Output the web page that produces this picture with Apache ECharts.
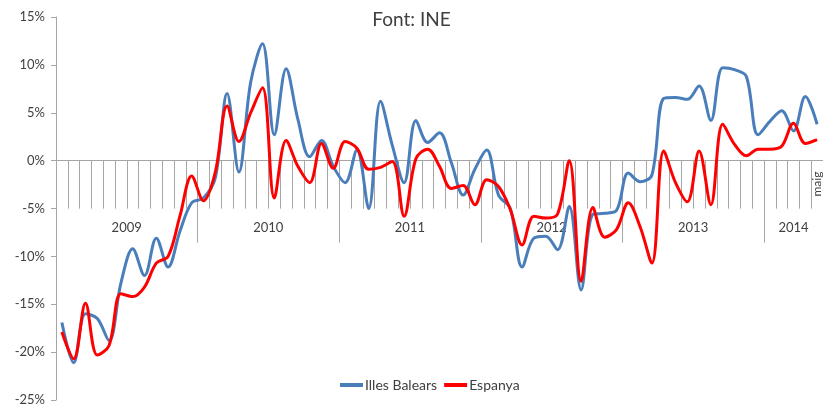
<!DOCTYPE html>
<html>
<head>
<meta charset="utf-8">
<script src="https://cdn.jsdelivr.net/npm/echarts@6/dist/echarts.min.js"></script>
<style>
    html, body { margin: 0; padding: 0; background: #fff; }
    #chart { width: 823px; height: 404px; }
</style>
</head>
<body>
<div id="chart"></div>
<script>
// categories: one per month, gen 2009 - maig 2014
var years = ['2009', '2010', '2011', '2012', '2013', '2014'];
var monthNames = ['gen', 'feb', 'mar', 'abr', 'maig', 'jun', 'jul', 'ago', 'set', 'oct', 'nov', 'des'];
var months = [];
for (var y = 0; y < years.length; y++) {
    for (var m = 0; m < 12; m++) {
        if (y === years.length - 1 && m > 4) break;
        months.push(monthNames[m] + ' ' + years[y]);
    }
}
var lastMonthLabel = 'maig';

// variacio interanual (%)
var illesBalears = [
    -16.9, -21.1, -16.0, -16.5, -18.8, -12.8, -9.2, -12.0, -8.1, -11.1, -7.4, -4.4,
    -3.9, -1.8, 7.0, -1.2, 8.2, 12.2, 2.7, 9.6, 4.3, 0.4, 2.1, -0.6,
    -2.3, 1.1, -5.0, 6.2, 1.6, -2.3, 4.2, 1.9, 2.9, -0.2, -3.6, -0.9,
    1.1, -3.6, -5.0, -11.1, -8.1, -7.9, -9.3, -4.8, -13.5, -5.6, -5.5, -5.2,
    -1.3, -2.2, -1.5, 6.5, 6.6, 6.4, 7.8, 4.2, 9.7, 9.5, 8.8, 2.7,
    4.1, 5.2, 3.1, 6.7, 3.8
];
var espanya = [
    -17.9, -20.7, -14.9, -20.3, -19.3, -13.9, -14.2, -13.2, -10.7, -10.0, -5.8, -1.6,
    -4.2, -1.2, 5.7, 2.0, 5.0, 7.6, -3.9, 2.1, -0.6, -2.3, 1.8, -0.8,
    2.0, 1.3, -0.9, -0.7, -0.1, -5.8, 0.2, 1.2, -0.6, -2.9, -2.6, -4.6,
    -2.0, -2.7, -5.1, -8.8, -5.8, -6.0, -5.6, 0.0, -12.6, -4.9, -8.0, -7.2,
    -4.4, -6.9, -10.7, 1.0, -2.3, -4.3, 1.0, -4.6, 3.8, 1.7, 0.5, 1.2,
    1.2, 1.5, 3.9, 1.8, 2.2
];

var axisGray = '#a6a6a6';
var textColor = '#404040';
var fontName = 'Lato';

var yMin = -25, yMax = 15;
var gridTop = 17, gridBottom = 4, chartH = 404;
// the month/year axes sit on the 0% line: shift them up from the grid bottom
var zeroOffset = -(chartH - gridTop - gridBottom) * (0 - yMin) / (yMax - yMin);

var chart = echarts.init(document.getElementById('chart'));
chart.setOption({
    animation: false,
    textStyle: { fontFamily: fontName },
    title: {
        text: 'Font: INE',
        left: 'center',
        top: 5,
        textStyle: { fontSize: 19, fontWeight: 'normal', color: textColor, fontFamily: fontName }
    },
    legend: {
        left: 335,
        top: 373,
        icon: 'rect',
        itemWidth: 23,
        itemHeight: 4,
        itemGap: 7,
        textStyle: { fontSize: 14, color: textColor, padding: [0, 0, 0, -3] },
        data: ['Illes Balears', 'Espanya']
    },
    grid: { left: 56, right: 0, top: gridTop, bottom: gridBottom, containLabel: false, outerBoundsMode: 'none' },
    xAxis: [
        {
            type: 'category',
            data: months,
            boundaryGap: true,
            position: 'bottom',
            offset: zeroOffset,
            axisLine: { onZero: false, lineStyle: { color: axisGray, width: 1 } },
            axisTick: { show: true, interval: 0, length: 48, lineStyle: { color: axisGray } },
            axisLabel: {
                interval: 0,
                rotate: 90,
                margin: 11,
                fontSize: 12,
                color: textColor,
                showMaxLabel: true,
                formatter: function (v, i) {
                    return i === months.length - 1 ? lastMonthLabel : '';
                }
            },
            splitLine: { show: false }
        },
        {
            type: 'category',
            data: months,
            boundaryGap: true,
            position: 'bottom',
            offset: zeroOffset,
            axisLine: { show: false, onZero: false },
            axisTick: {
                show: true,
                length: 82,
                lineStyle: { color: axisGray },
                interval: function (i) { return i % 12 === 0; }
            },
            axisLabel: {
                interval: 0,
                margin: 61,
                fontSize: 13,
                color: textColor,
                formatter: function (v, i) {
                    if (i % 12 === 6) return '{full|' + years[Math.floor(i / 12)] + '}';
                    if (i === 62) return years[5];
                    return '';
                },
                rich: {
                    full: { fontSize: 13, color: textColor, padding: [0, 12, 0, 0] }
                }
            },
            splitLine: { show: false }
        }
    ],
    yAxis: {
        type: 'value',
        min: yMin,
        max: yMax,
        interval: 5,
        axisLine: { show: true, lineStyle: { color: axisGray } },
        axisTick: { show: true, length: 5, lineStyle: { color: axisGray } },
        axisLabel: { formatter: '{value}%', fontSize: 13, color: textColor, margin: 11 },
        splitLine: { show: false }
    },
    series: [
        {
            name: 'Illes Balears',
            type: 'line',
            data: illesBalears,
            smooth: 0.35,
            showSymbol: false,
            symbol: 'none',
            lineStyle: { color: '#4a7ebb', width: 3 },
            itemStyle: { color: '#4a7ebb' }
        },
        {
            name: 'Espanya',
            type: 'line',
            data: espanya,
            smooth: 0.35,
            showSymbol: false,
            symbol: 'none',
            lineStyle: { color: '#ff0000', width: 3 },
            itemStyle: { color: '#ff0000' }
        }
    ]
});
</script>
</body>
</html>
